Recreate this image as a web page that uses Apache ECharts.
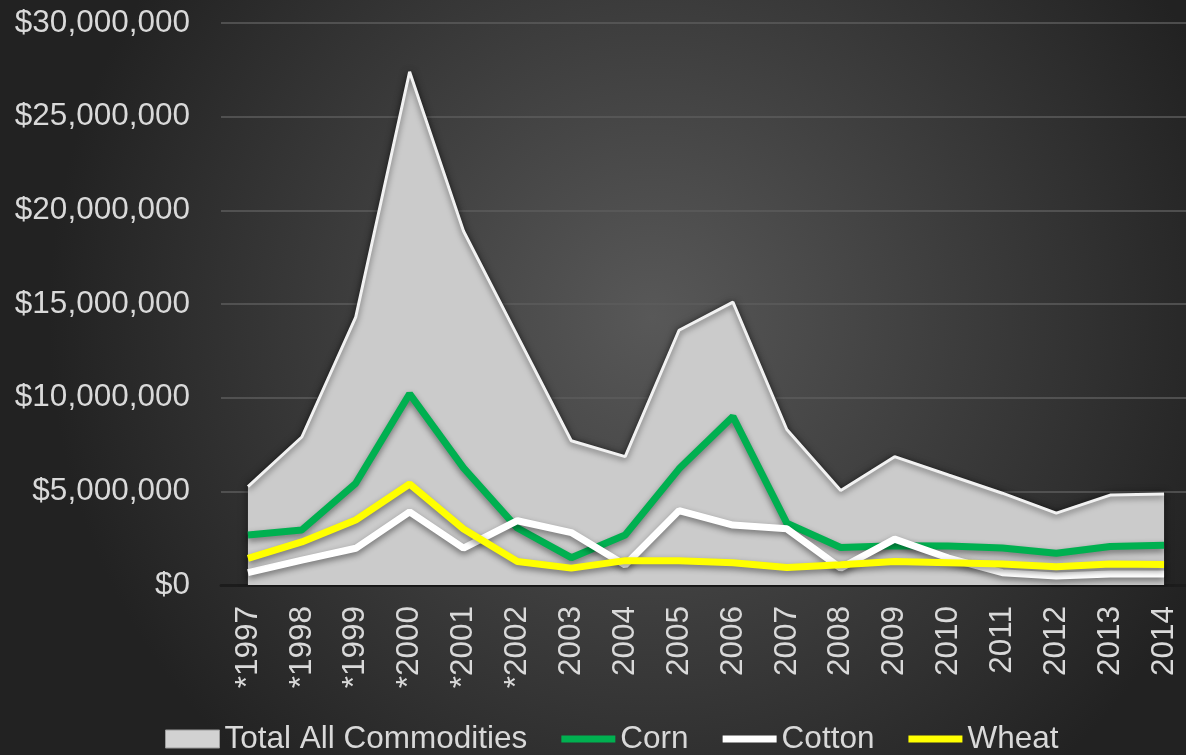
<!DOCTYPE html>
<html>
<head>
<meta charset="utf-8">
<script src="https://cdn.jsdelivr.net/npm/echarts@6/dist/echarts.min.js"></script>
<style>
html, body { margin: 0; padding: 0; background: #2a2a2a; }
#main { width: 1186px; height: 755px; }
</style>
</head>
<body>
<div id="main"></div>
<script>
// 年份（带*的为早期年份）
var years = ['*1997', '*1998', '*1999', '*2000', '*2001', '*2002', '2003', '2004', '2005',
	'2006', '2007', '2008', '2009', '2010', '2011', '2012', '2013', '2014'];
var totalAll = [5250000, 7900000, 14300000, 27400000, 18900000, 13300000, 7700000, 6850000, 13600000,
	15100000, 8300000, 5050000, 6850000, 5870000, 4900000, 3840000, 4800000, 4860000];
var corn = [2670000, 2940000, 5430000, 10200000, 6250000, 3040000, 1460000, 2670000, 6200000,
	8990000, 3300000, 2000000, 2100000, 2080000, 1970000, 1700000, 2050000, 2120000];
var cotton = [660000, 1330000, 1960000, 3900000, 1970000, 3430000, 2800000, 1070000, 3970000,
	3200000, 3000000, 900000, 2450000, 1440000, 660000, 480000, 590000, 590000];
var wheat = [1420000, 2300000, 3470000, 5390000, 2990000, 1250000, 900000, 1300000, 1300000,
	1190000, 940000, 1080000, 1250000, 1190000, 1120000, 980000, 1120000, 1100000];
var yTicks = { min: 0, max: 30000000, interval: 5000000 };

var textColor = '#d9d9d9';
var font = 'Liberation Sans';
var fontSize = 31.5;
var lineIcon = 'path://M0,0L54,0L54,7L0,7Z';

var myChart = echarts.init(document.getElementById('main'));

// 线条的阴影
function lineSeries(name, data, color) {
	return {
		name : name,
		type : 'line',
		data : data,
		symbol : 'none',
		color : color,
		itemStyle : { color : color },
		lineStyle : {
			color : color,
			width : 7,
			shadowColor : 'rgba(0,0,0,0.45)',
			shadowBlur : 6,
			shadowOffsetY : 3
		}
	};
}

var option = {
	backgroundColor : new echarts.graphic.RadialGradient(0.55, 0.42, 0.8, [
		{ offset : 0, color : '#585858' },
		{ offset : 1, color : '#222222' }
	]),
	animation : false,
	grid : {
		left : 221,
		width : 970,
		top : 23,
		bottom : 170,
		outerBoundsMode : 'none'
	},
	legend : {
		left : 165,
		top : 723,
		padding : 0,
		itemWidth : 54,
		itemHeight : 18,
		itemGap : 34,
		textStyle : { color : textColor, fontSize : fontSize, fontFamily : font },
		data : [
			{ name : 'Total All Commodities', icon : 'rect',
				itemStyle : { color : '#d2d2d2', borderColor : '#9a9a9a', borderWidth : 1 } },
			{ name : 'Corn', icon : lineIcon },
			{ name : 'Cotton', icon : lineIcon },
			{ name : 'Wheat', icon : lineIcon }
		]
	},
	xAxis : {
		type : 'category',
		boundaryGap : true,
		data : years,
		axisTick : { show : false },
		axisLine : { lineStyle : { color : '#1c1c1c', width : 3 } },
		axisLabel : {
			rotate : 90,
			margin : 21,
			color : textColor,
			fontSize : fontSize,
			fontFamily : font,
			interval : 0
		}
	},
	yAxis : {
		type : 'value',
		min : yTicks.min,
		max : yTicks.max,
		interval : yTicks.interval,
		axisLine : { show : false },
		axisTick : { show : false },
		splitLine : { lineStyle : { color : '#5c5c5c', width : 1.5 } },
		axisLabel : {
			margin : 31,
			color : textColor,
			fontSize : fontSize,
			fontFamily : font,
			formatter : function(v) {
				return '$' + v.toLocaleString('en-US');
			}
		}
	},
	series : [
		{
			name : 'Total All Commodities',
			type : 'line',
			data : totalAll,
			symbol : 'none',
			color : '#d2d2d2',
			itemStyle : { color : '#d2d2d2' },
			lineStyle : {
				color : '#f2f2f2',
				width : 3,
				shadowColor : 'rgba(0,0,0,0.55)',
				shadowBlur : 6,
				shadowOffsetY : 2
			},
			areaStyle : {
				color : '#cbcbcb',
				opacity : 1,
				shadowColor : 'rgba(0,0,0,0.5)',
				shadowBlur : 8
			}
		},
		lineSeries('Corn', corn, '#00b050'),
		lineSeries('Cotton', cotton, '#ffffff'),
		lineSeries('Wheat', wheat, '#ffff00')
	]
};

myChart.setOption(option);
</script>
</body>
</html>
